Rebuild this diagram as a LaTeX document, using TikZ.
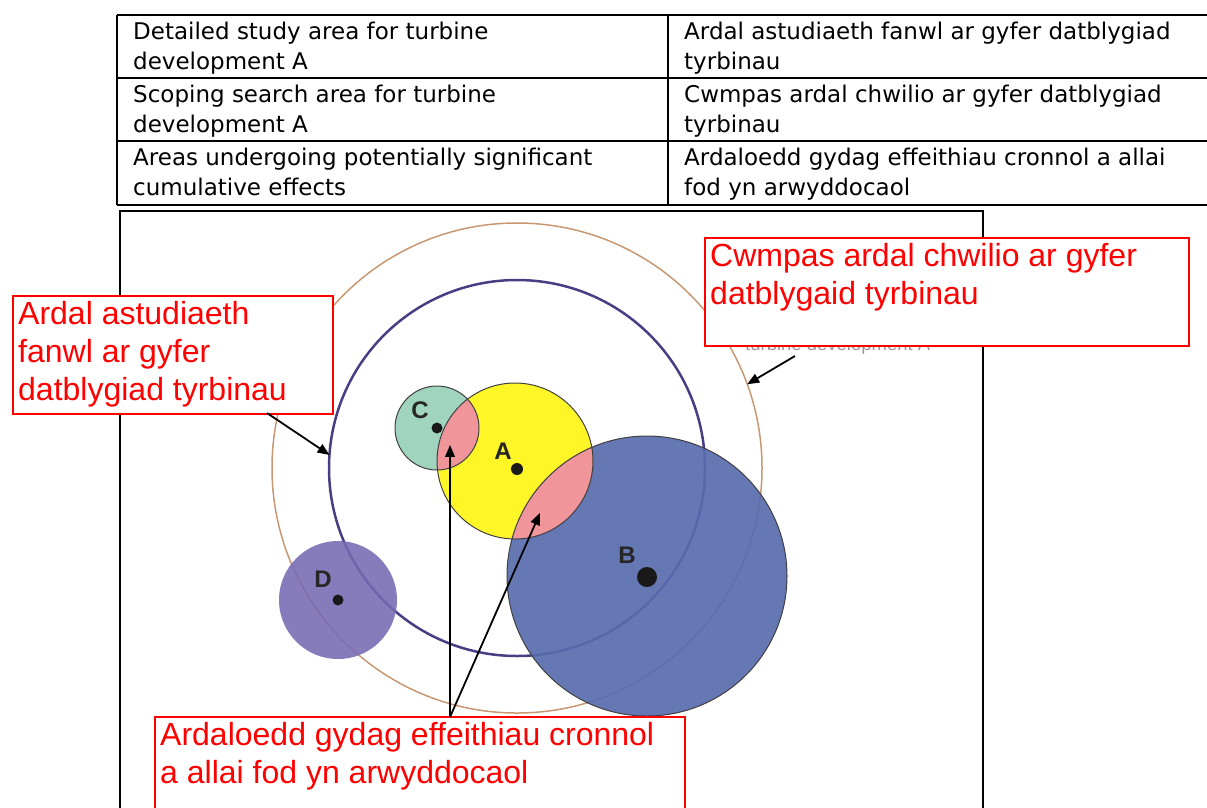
\documentclass[tikz,border=0pt]{standalone}
\usepackage{fontspec}
\usepackage{xcolor}
\usepackage{tikz}
\usetikzlibrary{shapes,arrows}
\usetikzlibrary{positioning}
\newfontfamily\tablefont{DejaVu Sans}
\newfontfamily\labelfont{Liberation Sans}
\definecolor{scopetan}{RGB}{200,152,115}
\definecolor{studypurple}{RGB}{72,62,132}
\definecolor{zoneA}{RGB}{255,246,40}
\definecolor{zoneB}{RGB}{88,108,174}
\definecolor{zoneC}{RGB}{160,212,190}
\definecolor{zoneD}{RGB}{118,106,178}
\definecolor{overlap}{RGB}{240,150,155}
\tikzstyle{rule} = [draw, line width=2pt]
\tikzstyle{cell} = [anchor=north west, inner sep=0pt, align=left,
                    font=\tablefont\fontsize{23}{30}\selectfont]
\tikzstyle{zone} = [circle, inner sep=0pt, outer sep=0pt]
\tikzstyle{zoneedge} = [draw=black!75, line width=1pt]
\tikzstyle{site} = [circle, fill=black!90, inner sep=0pt]
\tikzstyle{sitename} = [font=\labelfont\bfseries\fontsize{24}{24}\selectfont,
                        text=black!85]
\tikzstyle{redbox} = [rectangle, draw=red, line width=2.5pt, fill=white,
                      anchor=north west, inner sep=0pt, outer sep=0pt]
\tikzstyle{redtext} = [anchor=north west, inner sep=5pt, align=left, text=red,
                       font=\labelfont\fontsize{32}{38}\selectfont]
\tikzstyle{line} = [draw, -triangle 45, line width=1.8pt]

\begin{document}
\begin{tikzpicture}[x=1pt, y=-1pt]
  \useasboundingbox (0,0) rectangle (1207,807);

  % Table
  \foreach \y in {15,78,141,205}
    \draw[rule] (117,\y) -- (1207,\y);
  \draw[rule] (117,15) -- (117,205);
  \draw[rule] (668,15) -- (668,205);
  \node[cell] (en1) at (133,22) {Detailed study area for turbine\\development A};
  \node[cell] (cy1) at (684,22) {Ardal astudiaeth fanwl ar gyfer datblygiad\\tyrbinau};
  \node[cell] (en2) at (133,85) {Scoping search area for turbine\\development A};
  \node[cell] (cy2) at (684,85) {Cwmpas ardal chwilio ar gyfer datblygiad\\tyrbinau};
  \node[cell] (en3) at (133,148) {Areas undergoing potentially significant\\cumulative effects};
  \node[cell] (cy3) at (684,148) {Ardaloedd gydag effeithiau cronnol a allai\\fod yn arwyddocaol};

  % Figure frame
  \draw[rule] (120,211) rectangle (983,840);

  % Place zones
  \node[zone, draw=scopetan, line width=1.5pt, minimum size=490pt] (scoping) at (517,468) {};
  \node[zone, draw=studypurple, line width=2.5pt, minimum size=376pt] (study) at (517,468) {};
  \node[zone, fill=zoneD, fill opacity=0.88, minimum size=118pt] (zoneD) at (338,600) {};
  \node[zone, fill=zoneA, minimum size=156pt] (zoneA) at (515,461) {};
  \node[zone, fill=zoneC, minimum size=84pt] (zoneC) at (437,428) {};
  \node[zone, fill=zoneB, fill opacity=0.92, minimum size=280pt] (zoneB) at (647,576) {};

  % Overlaps
  \begin{scope}
    \clip (zoneA.center) circle (78);
    \fill[overlap] (zoneC.center) circle (42);
    \fill[overlap] (zoneB.center) circle (140);
  \end{scope}
  \foreach \z/\r in {zoneA/78, zoneB/140, zoneC/42}
    \draw[zoneedge] (\z.center) circle (\r);

  % Sites
  \node[site, minimum size=12pt] (siteA) at (517,469) {};
  \node[site, minimum size=20pt] (siteB) at (647,577) {};
  \node[site, minimum size=11pt] (siteC) at (437,428) {};
  \node[site, minimum size=11pt] (siteD) at (338,600) {};
  \node[sitename] (nameA) at (503,451) {A};
  \node[sitename] (nameB) at (627,555) {B};
  \node[sitename] (nameC) at (420,410) {C};
  \node[sitename] (nameD) at (323,579) {D};

  % Original caption, mostly hidden
  \node[anchor=base west, inner sep=0pt, text=black!40,
        font=\labelfont\fontsize{18.5}{20}\selectfont] (hiddennote) at (745,350) {turbine development A};

  % Red labels
  \node[redbox, minimum width=320pt, minimum height=118pt] (studybox) at (13,296) {};
  \node[redtext] (studylabel) at (studybox.north west) {Ardal astudiaeth\\fanwl ar gyfer\\datblygiad tyrbinau};
  \node[redbox, minimum width=484pt, minimum height=108pt] (scopebox) at (705,238) {};
  \node[redtext] (scopelabel) at (scopebox.north west) {Cwmpas ardal chwilio ar gyfer\\datblygaid tyrbinau};
  \node[redbox, minimum width=530pt, minimum height=120pt] (cumulbox) at (155,717) {};
  \node[redtext] (cumullabel) at (cumulbox.north west) {Ardaloedd gydag effeithiau cronnol\\a allai fod yn arwyddocaol};

  % Draw arrows
  \coordinate (studytail) at (267,413);
  \coordinate (scopetail) at (795,356);
  \coordinate (fork) at (450,717);
  \coordinate (lensAC) at (450,445);
  \coordinate (lensAB) at (540,513);
  \path [line] (studytail) -- (study.176);
  \path [line] (scopetail) -- (scoping.20);
  \path [line] (fork) -- (lensAC);
  \path [line] (fork) -- (lensAB);
\end{tikzpicture}
\end{document}
